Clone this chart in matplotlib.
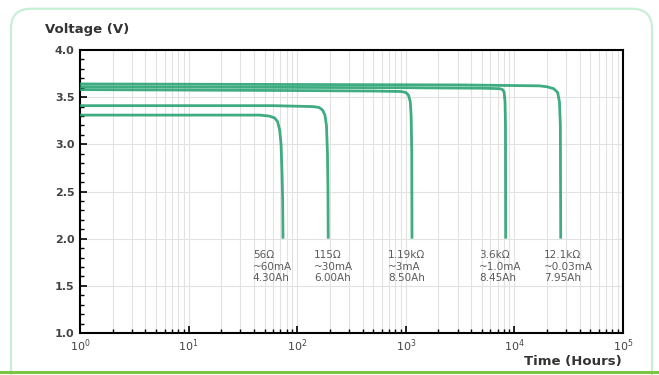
import matplotlib
matplotlib.use("Agg")
import matplotlib.pyplot as plt
import numpy as np
from matplotlib.patches import FancyBboxPatch
from matplotlib.lines import Line2D
from matplotlib.ticker import LogLocator, MultipleLocator, NullFormatter

# discharge curves (hours, volts)
t_56 = [1, 20, 45, 55, 62, 66, 69, 71, 72.5, 73.5, 74]
v_56 = [3.31, 3.31, 3.31, 3.30, 3.28, 3.24, 3.15, 3.00, 2.70, 2.40, 2.00]
t_115 = [1, 60, 140, 160, 172, 180, 186, 190, 192, 193]
v_115 = [3.41, 3.41, 3.40, 3.39, 3.36, 3.31, 3.20, 2.90, 2.50, 2.00]
t_1k19 = [1, 100, 500, 900, 1000, 1060, 1100, 1120, 1135, 1140]
v_1k19 = [3.58, 3.57, 3.565, 3.56, 3.55, 3.52, 3.45, 3.30, 2.90, 2.00]
t_3k6 = [1, 1000, 5000, 7300, 7800, 8050, 8200, 8280, 8320]
v_3k6 = [3.61, 3.60, 3.595, 3.59, 3.58, 3.55, 3.45, 3.20, 2.00]
t_12k1 = [1, 3000, 17000, 20000, 23000, 25000, 26000, 26500, 26700]
v_12k1 = [3.64, 3.63, 3.62, 3.61, 3.59, 3.55, 3.45, 3.20, 2.00]

labels = ["56\u03a9\n~60mA\n4.30Ah",
          "115\u03a9\n~30mA\n6.00Ah",
          "1.19k\u03a9\n~3mA\n8.50Ah",
          "3.6k\u03a9\n~1.0mA\n8.45Ah",
          "12.1k\u03a9\n~0.03mA\n7.95Ah"]
label_x = [39, 143, 686, 4720, 18700]

curves = [(t_56, v_56), (t_115, v_115), (t_1k19, v_1k19), (t_3k6, v_3k6), (t_12k1, v_12k1)]

fig = plt.figure(figsize=(6.59, 3.75), dpi=100)

# rounded light green frame and bottom bar
frame = FancyBboxPatch((11 / 659, -0.05), 641 / 659, 1 - 5 / 375 + 0.05 - 0.01,
                       boxstyle="round,pad=0,rounding_size=0.03",
                       transform=fig.transFigure, fc="none", ec="#c6f0d6", lw=1.6,
                       mutation_aspect=659 / 375, zorder=-1)
fig.patches.append(frame)
fig.lines.append(Line2D([0, 1], [1 - 372 / 375] * 2, transform=fig.transFigure,
                        color="#7cc443", lw=2.2))

ax = fig.add_axes([80 / 659, 1 - 333 / 375, 543 / 659, 283 / 375])
ax.set_xscale("log")
ax.set_xlim(1, 1e5)
ax.set_ylim(1.0, 4.0)

for t, v in curves:
    ax.plot(t, v, color="#1e9e6c", lw=2.0, alpha=0.85, solid_joinstyle="round",
            solid_capstyle="butt", zorder=3)

ax.xaxis.set_major_locator(LogLocator(base=10))
ax.xaxis.set_minor_locator(LogLocator(base=10, subs=np.arange(2, 10)))
ax.xaxis.set_minor_formatter(NullFormatter())
ax.yaxis.set_major_locator(MultipleLocator(0.5))
ax.yaxis.set_minor_locator(MultipleLocator(0.1))
ax.yaxis.set_major_formatter(plt.FuncFormatter(lambda v, p: f"{v:.1f}"))

ax.grid(True, which="both", axis="x", color="#e2e2e2", lw=0.8)
ax.grid(True, which="major", axis="y", color="#e2e2e2", lw=0.8)
ax.set_axisbelow(True)

ax.tick_params(which="both", direction="in", colors="black", labelcolor="#444444",
               labelsize=8)
ax.tick_params(which="major", length=5, width=1.2)
ax.tick_params(which="minor", length=3, width=1.0)
ax.tick_params(axis="y", pad=4)
ax.tick_params(axis="x", pad=3)
for s in ax.spines.values():
    s.set_linewidth(1.5)
for lab in ax.get_yticklabels():
    lab.set_fontweight("bold")

for txt, x in zip(labels, label_x):
    ax.text(x, 1.88, txt, fontsize=7.5, color="#5a5a5a", va="top", ha="left",
            linespacing=1.2, zorder=4)

fig.text(45 / 659, 1 - 30 / 375, "Voltage (V)", fontsize=9.5, color="#333333",
         fontweight="bold", va="center", ha="left")
fig.text(622 / 659, 1 - 362 / 375, "Time (Hours)", fontsize=9.5, color="#333333",
         fontweight="bold", va="center", ha="right")

fig.savefig("out.png", dpi=100)
